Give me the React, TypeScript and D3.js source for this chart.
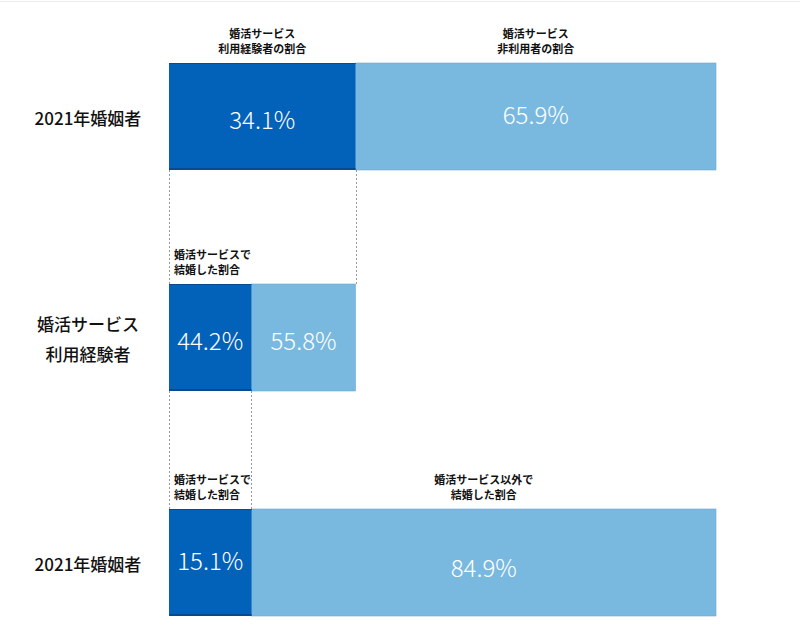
import React from "react";
import * as d3 from "d3";

const rowLabels: string[][] = [["2021年婚姻者"], ["婚活サービス", "利用経験者"], ["2021年婚姻者"]];
const darkValues = [34.1, 44.2, 15.1];
const lightValues = [65.9, 55.8, 84.9];
const darkHeaders: string[][] = [["婚活サービス", "利用経験者の割合"], ["婚活サービスで", "結婚した割合"], ["婚活サービスで", "結婚した割合"]];
const lightHeaders: string[][] = [["婚活サービス", "非利用者の割合"], [], ["婚活サービス以外で", "結婚した割合"]];

const W = 800;
const H = 643;
const DARK = "#0262B9";
const LIGHT = "#79B9E0";
const FONT = "'Noto Sans CJK JP', 'Noto Sans', sans-serif";

export default function App() {
  const x = d3.scaleLinear().domain([0, 100]).range([169, 716]);
  const x2 = d3.scaleLinear().domain([0, 100]).range([169, x(darkValues[0])]);
  const scales = [x, x2, x];
  const rowTops = [63, 284, 509];
  const barH = 107;

  return (
    <svg width={W} height={H} style={{ position: "absolute", left: 0, top: 0, background: "#fff" }} fontFamily={FONT}>
      <line x1={0} x2={W} y1={1.5} y2={1.5} stroke="#eee" />
      {/* dashed connectors */}
      {[0, 1].map((i) => {
        const s = scales[i];
        const xs = [s(0), s(darkValues[i])];
        return xs.map((xv, j) => (
          <line key={`c${i}${j}`} x1={Math.round(xv) + 0.5} x2={Math.round(xv) + 0.5}
            y1={rowTops[i] + barH} y2={rowTops[i + 1]} stroke="#999" strokeDasharray="2,2" strokeWidth={1} />
        ));
      })}
      {rowTops.map((top, i) => {
        const s = scales[i];
        const d = darkValues[i];
        const l = lightValues[i];
        const cy = top + barH / 2;
        const lines = rowLabels[i];
        return (
          <g key={i}>
            <rect x={s(d)} y={top} width={s(d + l) - s(d)} height={barH} fill={LIGHT} stroke="#6aa9d0" strokeWidth={0.6} />
            <rect x={s(0)} y={top} width={s(d) - s(0)} height={barH} fill={DARK} />
            <line x1={s(0)} x2={s(d)} y1={top + barH - 1} y2={top + barH - 1} stroke="#0a4a8c" strokeWidth={2} />
            <line x1={s(0)} x2={s(d)} y1={top + 0.5} y2={top + 0.5} stroke="#0a4a8c" strokeWidth={1} />
            <text x={(s(0) + s(d)) / 2} y={cy + (i === 2 ? -3 : 2)} textAnchor="middle" dominantBaseline="central"
              fill="#fff" fontSize={24} fontWeight={300}>{d.toFixed(1)}%</text>
            <text x={(s(d) + s(d + l)) / 2} y={cy + (i === 2 ? 4 : i === 0 ? -3 : 2)} textAnchor="middle" dominantBaseline="central"
              fill="#fff" fontSize={24} fontWeight={300}>{l.toFixed(1)}%</text>
            {lines.map((t, k) => (
              <text key={k} x={88} y={cy + (k - (lines.length - 1) / 2) * 30 + 1} textAnchor="middle" dominantBaseline="central"
                fill="#111" fontSize={17} fontWeight={500}>{t}</text>
            ))}
            {darkHeaders[i].map((t, k) => {
              const centered = i === 0;
              return (
                <text key={`dh${k}`} x={centered ? (s(0) + s(d)) / 2 : s(0) + 5}
                  y={top - 30 + k * 15} textAnchor={centered ? "middle" : "start"} dominantBaseline="central"
                  fill="#111" fontSize={11} fontWeight={700}>{t}</text>
              );
            })}
            {lightHeaders[i].map((t, k) => (
              <text key={`lh${k}`} x={(s(d) + s(d + l)) / 2} y={top - 30 + k * 15} textAnchor="middle" dominantBaseline="central"
                fill="#111" fontSize={11} fontWeight={700}>{t}</text>
            ))}
          </g>
        );
      })}
    </svg>
  );
}
